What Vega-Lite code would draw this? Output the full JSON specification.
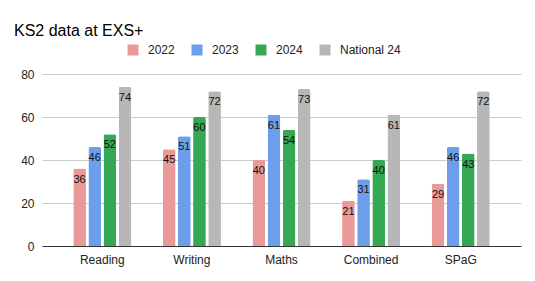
{
  "$schema": "https://vega.github.io/schema/vega-lite/v6.json",
  "autosize": {"type": "none"},
  "width": 479,
  "height": 172,
  "padding": {"left": 42, "top": 74, "right": 14, "bottom": 35},
  "background": "white",
  "title": {
    "text": "KS2 data at EXS+",
    "anchor": "start",
    "frame": "group",
    "font": "Liberation Sans",
    "fontSize": 16,
    "fontWeight": "normal",
    "color": "#000000",
    "baseline": "alphabetic",
    "dx": -28,
    "dy": 17,
    "offset": 9
  },
  "config": {
    "view": {"stroke": null},
    "font": "Liberation Sans"
  },
  "data": {
    "values": [
      {"subject": "Reading", "series": "2022", "value": 36},
      {"subject": "Reading", "series": "2023", "value": 46},
      {"subject": "Reading", "series": "2024", "value": 52},
      {"subject": "Reading", "series": "National 24", "value": 74},
      {"subject": "Writing", "series": "2022", "value": 45},
      {"subject": "Writing", "series": "2023", "value": 51},
      {"subject": "Writing", "series": "2024", "value": 60},
      {"subject": "Writing", "series": "National 24", "value": 72},
      {"subject": "Maths", "series": "2022", "value": 40},
      {"subject": "Maths", "series": "2023", "value": 61},
      {"subject": "Maths", "series": "2024", "value": 54},
      {"subject": "Maths", "series": "National 24", "value": 73},
      {"subject": "Combined", "series": "2022", "value": 21},
      {"subject": "Combined", "series": "2023", "value": 31},
      {"subject": "Combined", "series": "2024", "value": 40},
      {"subject": "Combined", "series": "National 24", "value": 61},
      {"subject": "SPaG", "series": "2022", "value": 29},
      {"subject": "SPaG", "series": "2023", "value": 46},
      {"subject": "SPaG", "series": "2024", "value": 43},
      {"subject": "SPaG", "series": "National 24", "value": 72}
    ]
  },
  "encoding": {
    "x": {
      "field": "subject",
      "type": "nominal",
      "sort": ["Reading", "Writing", "Maths", "Combined", "SPaG"],
      "scale": {"paddingInner": 0.352, "paddingOuter": 0.349},
      "axis": {
        "title": null,
        "labelAngle": 0,
        "labelFontSize": 12,
        "labelColor": "#222222",
        "labelPadding": 8,
        "ticks": false,
        "domainColor": "#333333",
        "domainWidth": 1,
        "grid": false
      }
    },
    "xOffset": {
      "field": "series",
      "type": "nominal",
      "sort": ["2022", "2023", "2024", "National 24"],
      "scale": {"paddingInner": 0.16, "paddingOuter": 0}
    },
    "y": {
      "field": "value",
      "type": "quantitative",
      "scale": {"domain": [0, 80], "nice": false},
      "axis": {
        "title": null,
        "values": [0, 20, 40, 60, 80],
        "labelFontSize": 12,
        "labelColor": "#222222",
        "labelPadding": 8,
        "ticks": false,
        "domain": false,
        "gridColor": "#cccccc",
        "gridWidth": 1
      }
    }
  },
  "layer": [
    {
      "mark": {"type": "bar", "cornerRadiusTopLeft": 2, "cornerRadiusTopRight": 2},
      "encoding": {
        "color": {
          "field": "series",
          "type": "nominal",
          "sort": ["2022", "2023", "2024", "National 24"],
          "scale": {
            "domain": ["2022", "2023", "2024", "National 24"],
            "range": ["#ea9999", "#6d9eeb", "#34a853", "#b7b7b7"]
          },
          "legend": {
            "title": null,
            "orient": "none",
            "direction": "horizontal",
            "legendX": 85,
            "legendY": -30,
            "symbolType": "square",
            "symbolSize": 121,
            "symbolStrokeWidth": 0,
            "symbolOpacity": 1,
            "labelFontSize": 12,
            "labelColor": "#222222",
            "labelOffset": 9,
            "columnPadding": 16
          }
        }
      }
    },
    {
      "mark": {
        "type": "text",
        "baseline": "middle",
        "align": "center",
        "dy": 11,
        "fontSize": 11,
        "color": "#111111"
      },
      "encoding": {
        "text": {"field": "value", "type": "quantitative"}
      }
    }
  ]
}
